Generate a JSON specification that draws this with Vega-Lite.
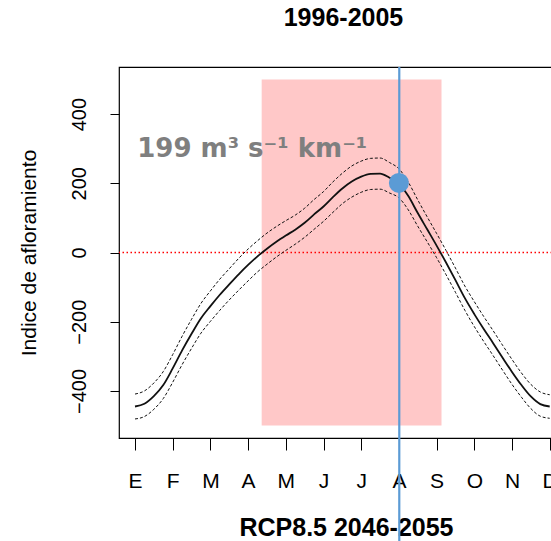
{
  "$schema": "https://vega.github.io/schema/vega-lite/v6.json",
  "width": 433,
  "height": 371,
  "autosize": {"type": "none"},
  "padding": {"left": 119, "top": 67, "right": 0, "bottom": 103},
  "background": "white",
  "title": {"text": "1996-2005", "font": "Liberation Sans", "fontSize": 25, "fontWeight": "bold", "color": "black", "anchor": "middle", "frame": "group", "dx": 8, "offset": 10, "baseline": "bottom"},
  "config": {"view": {"stroke": "black", "strokeWidth": 1.2}},
  "datasets": {
    "curve": [
      {"m": 1.0, "v": -445, "up": -409, "lo": -481},
      {"m": 1.25, "v": -437, "up": -400, "lo": -474},
      {"m": 1.5, "v": -415, "up": -377, "lo": -453},
      {"m": 1.75, "v": -383, "up": -344, "lo": -422},
      {"m": 2.0, "v": -335, "up": -295, "lo": -375},
      {"m": 2.25, "v": -283, "up": -242, "lo": -324},
      {"m": 2.5, "v": -235, "up": -193, "lo": -277},
      {"m": 2.75, "v": -190, "up": -147, "lo": -233},
      {"m": 3.0, "v": -155, "up": -111, "lo": -199},
      {"m": 3.25, "v": -122, "up": -77, "lo": -167},
      {"m": 3.5, "v": -92, "up": -47, "lo": -137},
      {"m": 3.75, "v": -63, "up": -17, "lo": -109},
      {"m": 4.0, "v": -36, "up": 10, "lo": -82},
      {"m": 4.25, "v": -11, "up": 34, "lo": -56},
      {"m": 4.5, "v": 11, "up": 56, "lo": -34},
      {"m": 4.75, "v": 31, "up": 75, "lo": -13},
      {"m": 5.0, "v": 49, "up": 92, "lo": 6},
      {"m": 5.25, "v": 66, "up": 108, "lo": 24},
      {"m": 5.5, "v": 86, "up": 128, "lo": 44},
      {"m": 5.75, "v": 110, "up": 153, "lo": 67},
      {"m": 6.0, "v": 133, "up": 176, "lo": 90},
      {"m": 6.25, "v": 160, "up": 204, "lo": 116},
      {"m": 6.5, "v": 185, "up": 229, "lo": 141},
      {"m": 6.75, "v": 205, "up": 250, "lo": 160},
      {"m": 7.0, "v": 219, "up": 264, "lo": 174},
      {"m": 7.25, "v": 227, "up": 272, "lo": 182},
      {"m": 7.5, "v": 228, "up": 273, "lo": 183},
      {"m": 7.75, "v": 216, "up": 260, "lo": 172},
      {"m": 8.0, "v": 200, "up": 242, "lo": 158},
      {"m": 8.25, "v": 163, "up": 203, "lo": 123},
      {"m": 8.5, "v": 114, "up": 152, "lo": 76},
      {"m": 8.75, "v": 67, "up": 103, "lo": 31},
      {"m": 9.0, "v": 20, "up": 55, "lo": -15},
      {"m": 9.25, "v": -29, "up": 6, "lo": -64},
      {"m": 9.5, "v": -80, "up": -45, "lo": -115},
      {"m": 9.75, "v": -132, "up": -97, "lo": -167},
      {"m": 10.0, "v": -178, "up": -142, "lo": -214},
      {"m": 10.25, "v": -221, "up": -185, "lo": -257},
      {"m": 10.5, "v": -262, "up": -226, "lo": -298},
      {"m": 10.75, "v": -304, "up": -268, "lo": -340},
      {"m": 11.0, "v": -345, "up": -309, "lo": -381},
      {"m": 11.25, "v": -383, "up": -348, "lo": -418},
      {"m": 11.5, "v": -416, "up": -381, "lo": -451},
      {"m": 11.75, "v": -438, "up": -403, "lo": -473},
      {"m": 12.0, "v": -445, "up": -411, "lo": -479}
    ]
  },
  "layer": [
    {
      "data": {"values": [{"x1": 4.36, "x2": 9.13, "y1": -500, "y2": 500}]},
      "mark": {"type": "rect", "color": "#ffc8c8"},
      "encoding": {
        "x": {"field": "x1", "type": "quantitative",
          "scale": {"domain": [0.5756, 12.061], "nice": false, "zero": false},
          "axis": {"values": [1,2,3,4,5,6,7,8,9,10,11,12], "tickCount": 24,
            "labelExpr": "['E','F','M','A','M','J','J','A','S','O','N','D'][datum.value-1]",
            "domain": false, "grid": false, "ticks": true, "tickColor": "black", "tickSize": 12, "tickWidth": 1,
            "labelFont": "Liberation Sans", "labelFontSize": 21, "labelColor": "black", "labelPadding": 20,
            "labelFlush": false, "labelOverlap": false, "labelBaseline": "top",
            "title": "RCP8.5 2046-2055", "titleFont": "Liberation Sans", "titleFontSize": 25, "titleFontWeight": "bold",
            "titleColor": "black", "titleX": 227, "titleY": 97, "titleBaseline": "alphabetic", "titleAlign": "center"}},
        "x2": {"field": "x2"},
        "y": {"field": "y1", "type": "quantitative",
          "scale": {"domain": [-536, 536], "nice": false, "zero": false},
          "axis": {"values": [-400, -200, 0, 200, 400], "tickCount": 20,
            "domain": false, "grid": false, "ticks": true, "tickColor": "black", "tickSize": 9, "tickWidth": 1,
            "labelFont": "Liberation Sans", "labelFontSize": 20, "labelColor": "black", "labelPadding": 25,
            "labelAngle": -90, "labelAlign": "center", "labelBaseline": "alphabetic", "labelFlush": false, "labelOverlap": false,
            "title": "Indice de afloramiento", "titleFont": "Liberation Sans", "titleFontSize": 21, "titleFontWeight": "normal",
            "titleColor": "black", "titleX": -84, "titleY": 185.5, "titleAngle": -90, "titleBaseline": "alphabetic", "titleAlign": "center"}},
        "y2": {"field": "y2"}
      }
    },
    {
      "data": {"values": [{"y1": 0}]},
      "mark": {"type": "rule", "color": "#ff0000", "strokeWidth": 1.6, "strokeDash": [1.5, 2.5]},
      "encoding": {"y": {"field": "y1", "type": "quantitative",
          "axis": {"values": [-400, -200, 0, 200, 400], "tickCount": 20,
            "domain": false, "grid": false, "ticks": true, "tickColor": "black", "tickSize": 9, "tickWidth": 1,
            "labelFont": "Liberation Sans", "labelFontSize": 20, "labelColor": "black", "labelPadding": 25,
            "labelAngle": -90, "labelAlign": "center", "labelBaseline": "alphabetic", "labelFlush": false, "labelOverlap": false,
            "title": "Indice de afloramiento", "titleFont": "Liberation Sans", "titleFontSize": 21, "titleFontWeight": "normal",
            "titleColor": "black", "titleX": -84, "titleY": 185.5, "titleAngle": -90, "titleBaseline": "alphabetic", "titleAlign": "center"}}}
    },
    {
      "data": {"name": "curve"},
      "layer": [
        {"mark": {"type": "line", "color": "#111111", "strokeWidth": 1, "strokeDash": [3, 2], "interpolate": "monotone"},
         "encoding": {"y": {"field": "up", "type": "quantitative"}}},
        {"mark": {"type": "line", "color": "#111111", "strokeWidth": 1, "strokeDash": [3, 2], "interpolate": "monotone"},
         "encoding": {"y": {"field": "lo", "type": "quantitative"}}},
        {"mark": {"type": "line", "color": "#111111", "strokeWidth": 1.8, "interpolate": "monotone"},
         "encoding": {"y": {"field": "v", "type": "quantitative"}}}
      ],
      "encoding": {
        "x": {"field": "m", "type": "quantitative",
          "axis": {"values": [1,2,3,4,5,6,7,8,9,10,11,12], "tickCount": 24,
            "labelExpr": "['E','F','M','A','M','J','J','A','S','O','N','D'][datum.value-1]",
            "domain": false, "grid": false, "ticks": true, "tickColor": "black", "tickSize": 12, "tickWidth": 1,
            "labelFont": "Liberation Sans", "labelFontSize": 21, "labelColor": "black", "labelPadding": 20,
            "labelFlush": false, "labelOverlap": false, "labelBaseline": "top",
            "title": "RCP8.5 2046-2055", "titleFont": "Liberation Sans", "titleFontSize": 25, "titleFontWeight": "bold",
            "titleColor": "black", "titleX": 227, "titleY": 97, "titleBaseline": "alphabetic", "titleAlign": "center"}}
      }
    },
    {
      "data": {"values": [{"x1": 8.01, "y1": 536, "y2": -834}]},
      "mark": {"type": "rule", "color": "#5b9bd5", "strokeWidth": 2.2},
      "encoding": {"x": {"field": "x1", "type": "quantitative"}, "y": {"field": "y1", "type": "quantitative"}, "y2": {"field": "y2"}}
    },
    {
      "data": {"values": [{"x1": 8.0, "y1": 201}]},
      "mark": {"type": "circle", "color": "#5b9bd5", "opacity": 1, "size": 400},
      "encoding": {"x": {"field": "x1", "type": "quantitative"}, "y": {"field": "y1", "type": "quantitative"}}
    },
    {
      "data": {"values": [{"x1": 1.06, "y1": 276, "label": "199 m³ s⁻¹ km⁻¹"}]},
      "mark": {"type": "text", "align": "left", "baseline": "alphabetic", "font": "DejaVu Sans", "fontWeight": "bold", "fontSize": 26, "color": "#7f7f7f"},
      "encoding": {"x": {"field": "x1", "type": "quantitative"}, "y": {"field": "y1", "type": "quantitative"}, "text": {"field": "label"}}
    }
  ]
}
